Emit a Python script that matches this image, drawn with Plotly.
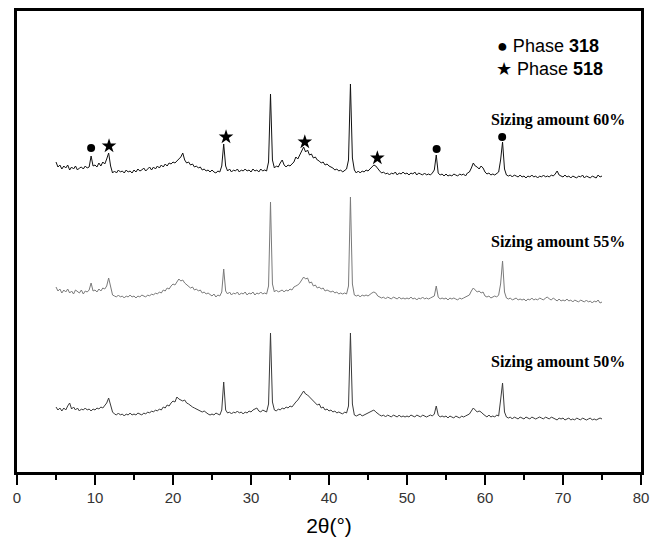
import plotly.graph_objects as go

# Scan: 2-theta from 5 to 75 deg, step 0.25 deg
scan_start = 5.0
scan_step = 0.25

# Intensity (a.u., offset per curve)
int_60 = [
    310, 305, 307, 303, 306, 304, 307, 302, 305, 303, 306, 302, 304, 305, 303, 306, 304, 305, 316, 306,
    307, 305, 309, 306, 310, 308, 313, 319, 306, 299, 301, 299, 302, 300, 301, 299, 302, 300, 301, 299,
    302, 300, 303, 301, 302, 304, 301, 303, 305, 302, 305, 303, 306, 304, 307, 305, 308, 306, 309, 308,
    310, 309, 311, 313, 315, 319, 312, 309, 310, 307, 308, 305, 306, 304, 305, 302, 303, 301, 302, 300,
    302, 300, 299, 301, 300, 306, 328, 306, 301, 303, 300, 302, 301, 303, 300, 302, 301, 303, 301, 302,
    300, 303, 301, 302, 300, 303, 301, 302, 301, 310, 378, 312, 304, 306, 305, 309, 312, 307, 305, 307,
    306, 308, 310, 315, 313, 317, 322, 325, 320, 322, 317, 318, 314, 315, 312, 311, 309, 310, 307, 308,
    306, 305, 304, 302, 303, 301, 302, 300, 302, 303, 312, 388, 314, 302, 299, 301, 299, 301, 300, 302,
    301, 303, 305, 307, 306, 303, 301, 299, 300, 298, 299, 297, 299, 298, 300, 297, 299, 298, 300, 298,
    299, 297, 299, 298, 300, 297, 299, 298, 297, 299, 297, 298, 297, 299, 302, 317, 299, 297, 298, 296,
    298, 296, 297, 296, 298, 297, 296, 298, 297, 298, 296, 299, 300, 304, 309, 306, 305, 303, 306, 304,
    300, 298, 299, 297, 298, 297, 299, 300, 312, 330, 303, 297, 296, 297, 295, 297, 296, 295, 297, 295,
    296, 294, 296, 295, 297, 295, 296, 294, 296, 295, 297, 295, 296, 295, 297, 296, 298, 301, 297, 296,
    295, 297, 295, 296, 294, 296, 295, 294, 296, 295, 297, 294, 296, 295, 294, 296, 295, 294, 297, 295,
    296,
]

int_55 = [
    185, 181, 183, 179, 182, 180, 183, 179, 181, 178, 182, 180, 179, 182, 178, 181, 180, 182, 189, 181,
    182, 180, 183, 181, 184, 183, 186, 194, 185, 177, 176, 175, 177, 175, 176, 174, 176, 175, 177, 175,
    176, 174, 176, 175, 177, 176, 175, 177, 176, 178, 177, 179, 178, 180, 179, 182, 181, 184, 183, 186,
    188, 187, 190, 193, 191, 192, 189, 187, 186, 184, 185, 182, 183, 181, 182, 179, 180, 178, 179, 177,
    176, 178, 175, 177, 176, 180, 203, 181, 178, 180, 177, 179, 178, 180, 177, 179, 178, 180, 177, 179,
    178, 180, 177, 179, 178, 180, 178, 179, 178, 186, 270, 188, 180, 182, 180, 181, 182, 180, 182, 181,
    183, 182, 185, 186, 187, 189, 192, 195, 193, 194, 189, 190, 186, 187, 184, 185, 183, 184, 181, 182,
    181, 180, 181, 179, 180, 178, 179, 178, 179, 178, 186, 275, 188, 177, 176, 177, 175, 177, 176, 177,
    176, 178, 179, 180, 179, 176, 175, 174, 175, 173, 175, 174, 173, 175, 174, 173, 175, 173, 174, 173,
    174, 173, 175, 173, 174, 172, 174, 173, 175, 173, 174, 173, 174, 175, 176, 186, 175, 173, 174, 173,
    174, 172, 174, 173, 174, 173, 172, 174, 173, 174, 175, 176, 177, 181, 184, 182, 180, 181, 179, 180,
    176, 175, 176, 174, 175, 176, 175, 177, 188, 211, 180, 174, 173, 174, 172, 173, 174, 172, 173, 172,
    173, 171, 173, 172, 174, 172, 173, 172, 174, 173, 172, 174, 175, 173, 172, 174, 172, 171, 173, 171,
    172, 171, 173, 171, 172, 170, 172, 171, 170, 172, 171, 170, 172, 170, 171, 169, 171, 170, 172, 169,
    170,
]

int_50 = [
    65, 62, 64, 61, 64, 62, 66, 69, 63, 65, 62, 64, 61, 63, 62, 64, 62, 63, 61, 63,
    62, 64, 63, 65, 64, 66, 69, 74, 66, 60, 58, 57, 59, 57, 58, 56, 58, 57, 59, 57,
    58, 57, 59, 58, 57, 59, 58, 60, 59, 61, 60, 62, 61, 63, 62, 65, 64, 67, 66, 69,
    71, 70, 75, 73, 72, 71, 72, 69, 68, 66, 65, 64, 63, 62, 61, 60, 61, 59, 58, 57,
    58, 57, 59, 58, 57, 62, 90, 62, 59, 60, 58, 60, 59, 61, 59, 60, 58, 60, 59, 61,
    60, 62, 63, 64, 61, 60, 62, 61, 60, 68, 139, 70, 62, 61, 63, 62, 64, 63, 65, 64,
    66, 65, 68, 70, 72, 75, 79, 81, 78, 77, 75, 73, 71, 70, 67, 68, 64, 65, 62, 63,
    61, 62, 60, 61, 59, 60, 59, 58, 60, 59, 66, 139, 68, 57, 56, 57, 58, 56, 57, 58,
    59, 60, 61, 62, 60, 58, 57, 56, 57, 55, 57, 56, 55, 57, 56, 55, 57, 55, 56, 55,
    56, 55, 57, 56, 55, 57, 56, 55, 57, 56, 55, 56, 57, 56, 58, 66, 57, 55, 56, 55,
    56, 54, 56, 55, 54, 56, 55, 54, 56, 55, 56, 57, 58, 61, 64, 62, 60, 61, 60, 58,
    56, 55, 57, 55, 56, 55, 57, 56, 72, 89, 60, 55, 54, 55, 53, 55, 54, 53, 55, 54,
    53, 55, 54, 53, 55, 54, 53, 54, 55, 54, 53, 55, 54, 53, 55, 54, 53, 52, 54, 53,
    54, 52, 53, 54, 52, 53, 52, 54, 53, 52, 54, 53, 52, 53, 54, 52, 53, 52, 53, 54,
    53,
]

# Phase markers on the 60% pattern
phase318_x = [9.5, 53.8, 62.2]
phase318_y = [324, 323, 335]
phase518_x = [11.8, 26.8, 36.9, 46.2]
phase518_y = [326, 335, 330, 314]

curve_labels = ["Sizing amount 60%", "Sizing amount 55%", "Sizing amount 50%"]
label_y = [352, 230, 110]
x_ticks = [0, 10, 20, 30, 40, 50, 60, 70, 80]


def angles(n):
    return [scan_start + scan_step * i for i in range(n)]


fig = go.Figure()
for ys, col in [(int_60, "#111111"), (int_55, "#7a7a7a"), (int_50, "#3a3a3a")]:
    fig.add_trace(go.Scatter(x=angles(len(ys)), y=ys, mode="lines",
                             line=dict(color=col, width=1), showlegend=False,
                             hoverinfo="skip"))

fig.add_trace(go.Scatter(x=phase318_x, y=phase318_y, mode="markers",
                         marker=dict(symbol="circle", size=8, color="black"),
                         showlegend=False))
fig.add_trace(go.Scatter(x=phase518_x, y=phase518_y, mode="markers",
                         marker=dict(symbol="star", size=11, color="black",
                                     line=dict(width=0)),
                         showlegend=False))

for txt, yy in zip(curve_labels, label_y):
    fig.add_annotation(x=78.2, y=yy, xref="x", yref="y", text="<b>" + txt + "</b>",
                       showarrow=False, xanchor="right", yanchor="middle",
                       font=dict(family="Liberation Serif", size=16, color="black"))

fig.add_annotation(x=0.766, y=0.924, xref="paper", yref="paper",
                   text="● Phase <b>318</b>", showarrow=False,
                   xanchor="left", yanchor="middle",
                   font=dict(family="Liberation Sans", size=18, color="black"))
fig.add_annotation(x=0.764, y=0.874, xref="paper", yref="paper",
                   text="★ Phase <b>518</b>", showarrow=False,
                   xanchor="left", yanchor="middle",
                   font=dict(family="Liberation Sans", size=18, color="black"))

# page body has an 8px default margin: size the figure to fit inside the window
fig.update_layout(
    width=652, height=534,
    margin=dict(l=9, r=19, t=3, b=70, autoexpand=False),
    plot_bgcolor="white", paper_bgcolor="white",
    showlegend=False,
)
fig.update_xaxes(
    range=[0, 80], tickvals=x_ticks, ticks="outside", ticklen=10, tickwidth=2,
    tickcolor="black", showline=True, linecolor="black", linewidth=2.5,
    mirror=True, showgrid=False, zeroline=False, automargin=False,
    minor=dict(dtick=5, ticks="outside", ticklen=5, tickwidth=2, tickcolor="black"),
    tickfont=dict(family="Liberation Sans", size=15, color="#333333"),
    title=dict(text="2θ(°)", font=dict(family="Liberation Sans", size=21, color="black"),
               standoff=14),
)
fig.update_yaxes(
    range=[0, 461], showticklabels=False, ticks="", showline=True, automargin=False,
    linecolor="black", linewidth=2.5, mirror=True, showgrid=False, zeroline=False,
)

fig.write_html("out.html")
